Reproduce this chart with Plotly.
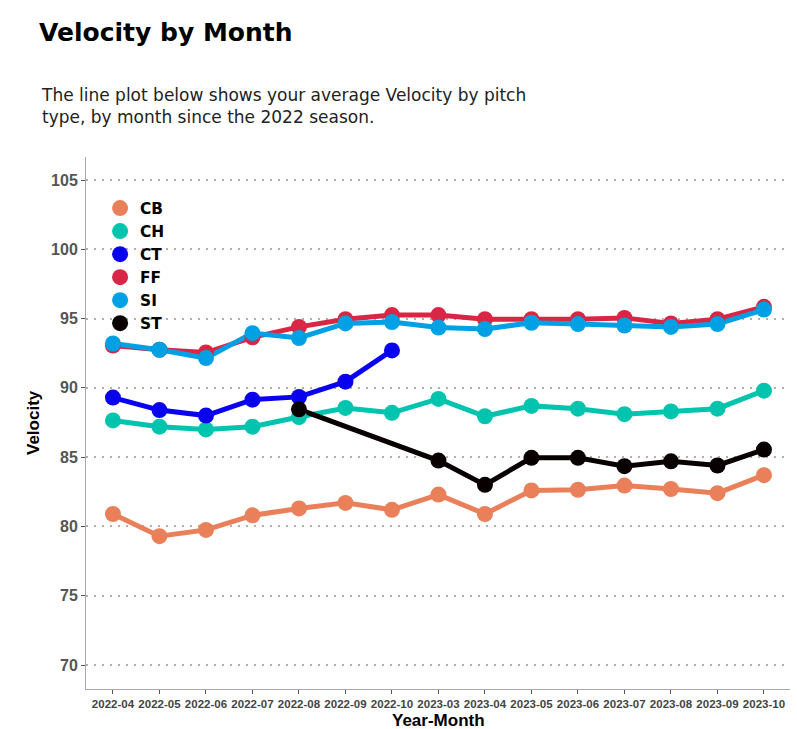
import plotly.graph_objects as go

months = ["2022-04", "2022-05", "2022-06", "2022-07", "2022-08", "2022-09", "2022-10",
          "2023-03", "2023-04", "2023-05", "2023-06", "2023-07", "2023-08", "2023-09", "2023-10"]

cb = [80.9, 79.3, 79.75, 80.8, 81.3, 81.7, 81.2, 82.3, 80.9, 82.6, 82.65, 82.95, 82.7, 82.4, 83.7]
ch = [87.65, 87.2, 87.0, 87.2, 87.9, 88.55, 88.2, 89.2, 87.95, 88.7, 88.5, 88.1, 88.3, 88.5, 89.8]
ct_months = months[:7]
ct = [89.3, 88.4, 88.0, 89.15, 89.35, 90.45, 92.7]
ff = [93.05, 92.75, 92.55, 93.65, 94.4, 94.95, 95.25, 95.25, 94.95, 94.95, 94.95, 95.05, 94.65, 94.95, 95.85]
si = [93.2, 92.75, 92.15, 93.95, 93.6, 94.65, 94.75, 94.35, 94.25, 94.7, 94.6, 94.5, 94.4, 94.6, 95.65]
st_months = ["2022-08", "2023-03", "2023-04", "2023-05", "2023-06", "2023-07", "2023-08", "2023-09", "2023-10"]
st = [88.45, 84.75, 83.0, 84.95, 84.95, 84.35, 84.7, 84.4, 85.55]

series = [
    ("CB", months, cb, "#E9805A"),
    ("CH", months, ch, "#00C4AE"),
    ("CT", ct_months, ct, "#0A00F0"),
    ("FF", months, ff, "#D92645"),
    ("SI", months, si, "#00A1E4"),
    ("ST", st_months, st, "#080000"),
]

fig = go.Figure()
# lines first (like ggplot geom_line), then points
for name, xs, ys, col in series:
    fig.add_trace(go.Scatter(x=xs, y=ys, mode="lines", line=dict(color=col, width=5),
                             showlegend=False, hoverinfo="skip"))
for name, xs, ys, col in series:
    fig.add_trace(go.Scatter(x=xs, y=ys, mode="markers", name=name,
                             marker=dict(color=col, size=16, line=dict(width=0))))

PL, PT, PW, PH = 86, 157, 704, 532  # plot area in pixels

fig.update_layout(
    width=797, height=729,
    paper_bgcolor="white", plot_bgcolor="white",
    margin=dict(l=PL, r=797 - PL - PW, t=PT, b=729 - PT - PH, autoexpand=False),
    title=dict(text="Velocity by Month", xref="container", yref="container",
               x=39 / 797, xanchor="left", y=1 - 32 / 729, yanchor="middle",
               font=dict(family="DejaVu Sans", size=25, color="#000000", weight="bold")),
    annotations=[
        dict(text="The line plot below shows your average Velocity by pitch<br>type, by month since the 2022 season.",
             xref="paper", yref="paper", x=(39 - PL) / PW, y=(PT + PH - 83) / PH,
             xanchor="left", yanchor="top", align="left", showarrow=False,
             font=dict(family="DejaVu Sans", size=17, color="#222222")),
        dict(text="Year-Month", xref="paper", yref="paper", x=0.5, y=(PT + PH - 720) / PH,
             xanchor="center", yanchor="middle", showarrow=False,
             font=dict(family="Liberation Sans", size=17, color="#000000", weight="bold")),
        dict(text="Velocity", xref="paper", yref="paper", x=(33 - PL) / PW, y=0.5, textangle=-90,
             xanchor="center", yanchor="middle", showarrow=False,
             font=dict(family="Liberation Sans", size=17, color="#000000", weight="bold")),
    ],
    legend=dict(x=0.02, y=0.935, xanchor="left", yanchor="top",
                font=dict(family="DejaVu Sans", size=15.4, color="#000000", weight="bold"),
                bgcolor="rgba(0,0,0,0)", itemsizing="trace", tracegroupgap=0),
    showlegend=True,
)

fig.update_xaxes(
    type="category", categoryorder="array", categoryarray=months,
    range=[-0.58, 14.56], showgrid=False, zeroline=False, automargin=False,
    showline=True, linecolor="#aaaaaa", linewidth=1,
    ticks="outside", ticklen=4, tickcolor="#555555", tickangle=0,
    tickfont=dict(family="Liberation Sans", size=11.5, color="#444444", weight="bold"),
)
fig.update_yaxes(
    range=[68.27, 106.66], tickvals=[70, 75, 80, 85, 90, 95, 100, 105],
    showgrid=True, gridcolor="#b0b0b0", gridwidth=2, griddash="2px,6px",
    zeroline=False, showline=True, linecolor="#aaaaaa", linewidth=1, automargin=False,
    ticks="outside", ticklen=4, tickcolor="#555555",
    tickfont=dict(family="Liberation Sans", size=16, color="#555555", weight="bold"),
)

fig.write_html("out.html", config={"displayModeBar": False},
               post_script="document.body.style.margin='0';")
